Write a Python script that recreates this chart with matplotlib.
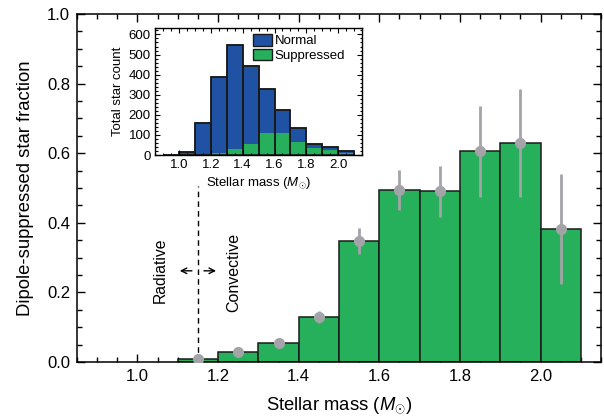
import numpy as np
import matplotlib
matplotlib.use("Agg")
import matplotlib.pyplot as plt
from matplotlib.patches import Patch
from matplotlib.ticker import MultipleLocator

plt.rcParams["font.family"] = ["Liberation Sans", "DejaVu Sans"]
plt.rcParams["mathtext.fontset"] = "custom"
plt.rcParams["mathtext.rm"] = "Liberation Sans"
plt.rcParams["mathtext.it"] = "Liberation Sans:italic"

# main panel: suppressed fraction per mass bin (bin centres)
mass_bins = [1.15, 1.25, 1.35, 1.45, 1.55, 1.65, 1.75, 1.85, 1.95, 2.05]
fraction = [0.010, 0.028, 0.055, 0.130, 0.348, 0.494, 0.490, 0.606, 0.630, 0.382]
err_low = [0.0, 0.0, 0.0, 0.017, 0.038, 0.057, 0.072, 0.131, 0.155, 0.159]
err_high = [0.0, 0.0, 0.0, 0.017, 0.037, 0.058, 0.073, 0.130, 0.154, 0.157]

# inset: star counts per bin
inset_bins = [0.95, 1.05, 1.15, 1.25, 1.35, 1.45, 1.55, 1.65, 1.75, 1.85, 1.95, 2.05]
total_count = [2, 13, 160, 390, 546, 443, 330, 225, 135, 56, 41, 21]
supp_count = [0, 0, 2, 11, 28, 56, 111, 111, 66, 33, 26, 8]

green = "#27b05b"
blue = "#1f52a3"
grey = "#a3a3a8"
edge = "#1a1a1a"

fig = plt.figure(figsize=(6.04, 4.18), dpi=100)
ax = fig.add_axes([0.1275, 0.134, 0.8675, 0.8325])

ax.bar(mass_bins, fraction, width=0.1, color=green, edgecolor=edge, linewidth=1.1, zorder=2)
ax.errorbar(mass_bins, fraction, yerr=[err_low, err_high], fmt="o", color=grey,
            ecolor=grey, elinewidth=2, markersize=7, capsize=0, zorder=3)

ax.plot([1.15, 1.15], [0, 0.505], color="k", linestyle=(0, (4, 3)), linewidth=1, zorder=1)
ax.annotate("", xy=(1.098, 0.262), xytext=(1.142, 0.262),
            arrowprops=dict(arrowstyle="->", color="k", lw=1))
ax.annotate("", xy=(1.202, 0.262), xytext=(1.158, 0.262),
            arrowprops=dict(arrowstyle="->", color="k", lw=1))
ax.text(1.056, 0.264, "Radiative", rotation=90, ha="center", va="center", fontsize=11.3)
ax.text(1.24, 0.256, "Convective", rotation=90, ha="center", va="center", fontsize=11.5)

ax.set_xlim(0.85, 2.15)
ax.set_ylim(0, 1.0)
ax.xaxis.set_minor_locator(MultipleLocator(0.05))
ax.yaxis.set_major_locator(MultipleLocator(0.2))
ax.yaxis.set_minor_locator(MultipleLocator(0.05))
ax.set_xticks([1.0, 1.2, 1.4, 1.6, 1.8, 2.0])
ax.set_xticklabels(["1.0", "1.2", "1.4", "1.6", "1.8", "2.0"])
ax.tick_params(which="both", direction="in", top=True, right=True, labelsize=12)
ax.tick_params(which="major", length=6, width=1, pad=5)
ax.tick_params(which="minor", length=3.5, width=1)
ax.set_xlabel("Stellar mass ($\\mathit{M}_{\\odot}$)", fontsize=13.3, labelpad=8)
ax.set_ylabel("Dipole-suppressed star fraction", fontsize=13.3, labelpad=9)
for s in ax.spines.values():
    s.set_linewidth(1.1)

# inset histogram
ins = fig.add_axes([0.2566, 0.629, 0.343, 0.303])
ins.bar(inset_bins, total_count, width=0.1, color=blue, edgecolor=edge, linewidth=1.1)
ins.bar(inset_bins, supp_count, width=0.1, color=green, edgecolor="none")
ins.bar(inset_bins, total_count, width=0.1, fill=False, edgecolor=edge, linewidth=1.1)
ins.set_xlim(0.85, 2.15)
ins.set_ylim(0, 630)
ins.set_xticks([1.0, 1.2, 1.4, 1.6, 1.8, 2.0])
ins.set_xticklabels(["1.0", "1.2", "1.4", "1.6", "1.8", "2.0"])
ins.xaxis.set_minor_locator(MultipleLocator(0.05))
ins.yaxis.set_major_locator(MultipleLocator(100))
ins.yaxis.set_minor_locator(MultipleLocator(20))
ins.tick_params(which="both", direction="in", top=True, right=True, labelsize=9.5, pad=3)
ins.tick_params(which="major", length=3.5, width=0.8)
ins.tick_params(which="minor", length=1.8, width=0.8)
ins.set_xlabel("Stellar mass ($\\mathit{M}_{\\odot}$)", fontsize=9.5, labelpad=3)
ins.set_ylabel("Total star count", fontsize=9.5, labelpad=3)
for s in ins.spines.values():
    s.set_linewidth(1)

handles = [Patch(facecolor=blue, edgecolor=edge, label="Normal"),
           Patch(facecolor=green, edgecolor=edge, label="Suppressed")]
ins.legend(handles=handles, loc="upper left", bbox_to_anchor=(0.43, 1.03), frameon=False,
           fontsize=9.5, handlelength=1.4, handleheight=1.0, handletextpad=0.2,
           labelspacing=0.1, borderpad=0.2)

fig.savefig("out.png", dpi=100)
